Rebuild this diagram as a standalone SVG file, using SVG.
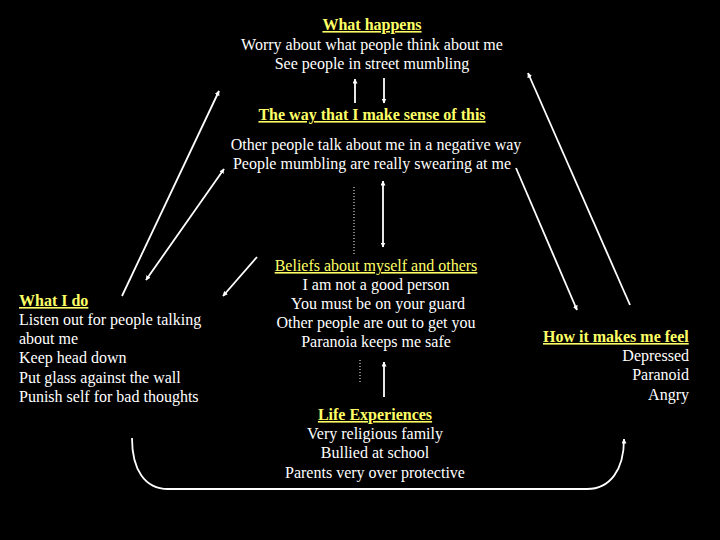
<svg xmlns="http://www.w3.org/2000/svg" width="720" height="540" viewBox="0 0 720 540">
<defs>
<style>
text{font-family:"Liberation Serif","Times New Roman",serif;font-size:16px;fill:#ffffff}
.h{fill:#ffff66;font-weight:bold;text-decoration:underline}
.hb{fill:#ffff66;text-decoration:underline}
.c{text-anchor:middle}
.r{text-anchor:end}
.ln{stroke:#ffffff;stroke-width:1.8;fill:none}
.dot{stroke:#ffffff;stroke-width:1;stroke-dasharray:1 2;fill:none}
</style>
<marker id="ah" viewBox="0 0 10 10" refX="9" refY="5" markerWidth="5" markerHeight="5" orient="auto-start-reverse" markerUnits="userSpaceOnUse">
<path d="M0,0 L10,5 L0,10 z" fill="#ffffff"/>
</marker>
</defs>
<rect width="720" height="540" fill="#000000"/>
<g id="connectors">
<line class="ln" x1="122" y1="296" x2="219" y2="91" marker-end="url(#ah)"/>
<line class="ln" x1="146" y1="280" x2="224" y2="169" marker-start="url(#ah)" marker-end="url(#ah)"/>
<line class="ln" x1="257" y1="257" x2="223" y2="296" marker-end="url(#ah)"/>
<line class="ln" x1="355" y1="103" x2="355" y2="79" marker-end="url(#ah)"/>
<line class="ln" x1="384" y1="78" x2="384" y2="103" marker-end="url(#ah)"/>
<line class="ln" x1="383" y1="181" x2="383" y2="247" marker-start="url(#ah)" marker-end="url(#ah)"/>
<line class="dot" x1="354" y1="187" x2="354" y2="254"/>
<line class="dot" x1="360" y1="360" x2="360" y2="383"/>
<line class="ln" x1="384" y1="397" x2="384" y2="362" marker-end="url(#ah)"/>
<line class="ln" x1="516" y1="168" x2="577" y2="310" marker-end="url(#ah)"/>
<line class="ln" x1="630" y1="305" x2="528" y2="73" marker-end="url(#ah)"/>
<path class="ln" d="M132,438 C132,470 145,489 168,489 L587,489 C610,489 624,470 624,439" marker-end="url(#ah)"/>
</g>
<g id="what-happens">
<text class="h c" x="372" y="30">What happens</text>
<text class="c" x="372" y="50">Worry about what people think about me</text>
<text class="c" x="372" y="69">See people in street mumbling</text>
</g>
<g id="sense">
<text class="h c" x="372" y="120">The way that I make sense of this</text>
<text class="c" x="376" y="150">Other people talk about me in a negative way</text>
<text class="c" x="372" y="169">People mumbling are really swearing at me</text>
</g>
<g id="beliefs">
<text class="hb c" x="376" y="271">Beliefs about myself and others</text>
<text class="c" x="376" y="290">I am not a good person</text>
<text class="c" x="378" y="309">You must be on your guard</text>
<text class="c" x="376" y="328">Other people are out to get you</text>
<text class="c" x="376" y="347">Paranoia keeps me safe</text>
</g>
<g id="life">
<text class="h c" x="375" y="420">Life Experiences</text>
<text class="c" x="375" y="439">Very religious family</text>
<text class="c" x="375" y="458">Bullied at school</text>
<text class="c" x="375" y="478">Parents very over protective</text>
</g>
<g id="what-i-do">
<text class="h" x="19" y="306">What I do</text>
<text x="19" y="325">Listen out for people talking</text>
<text x="19" y="344">about me</text>
<text x="19" y="363">Keep head down</text>
<text x="19" y="383">Put glass against the wall</text>
<text x="19" y="402">Punish self for bad thoughts</text>
</g>
<g id="feel">
<text class="h" x="543" y="342">How it makes me feel</text>
<text class="r" x="689" y="361">Depressed</text>
<text class="r" x="689" y="380">Paranoid</text>
<text class="r" x="689" y="400">Angry</text>
</g>
</svg>
